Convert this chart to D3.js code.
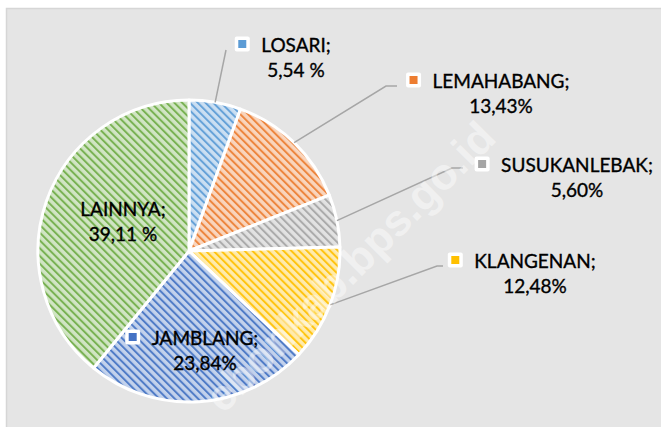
<!DOCTYPE html>
<html><head><meta charset="utf-8">
<script src="https://cdn.jsdelivr.net/npm/d3@7/dist/d3.min.js"></script>
<style>html,body{margin:0;padding:0;background:#fff;}svg{display:block;}</style>
</head><body>
<svg id="chart" width="661" height="427"></svg>
<script>
// ---- data ----
const categories = ["LOSARI", "LEMAHABANG", "SUSUKANLEBAK", "KLANGENAN", "JAMBLANG", "LAINNYA"];
const values = [5.54, 13.43, 5.60, 12.48, 23.84, 39.11];
const valueLabels = ["5,54 %", "13,43%", "5,60%", "12,48%", "23,84%", "39,11 %"];
const colors = ["#5B9BD5", "#ED7D31", "#A5A5A5", "#FFC000", "#4472C4", "#70AD47"];

// ---- layout ----
const W = 661, H = 427;
const cx = 189, cy = 251, R = 151;
const labelPos = [[296, 52], [501, 88], [577, 172], [535, 268], [205, 345], [123, 216]];
const showMarker = [true, true, true, true, true, false];
const leader = [
  [[226, 50]],
  [[386, 86], [397, 86]],
  [[452, 168], [463, 168]],
  [[437, 266], [443, 266]],
  null, null
];

const svg = d3.select("#chart");
svg.append("rect").attr("width", W).attr("height", H).attr("fill", "#fff");
svg.append("rect").attr("x", 6.5).attr("y", 8.5).attr("width", W).attr("height", H)
  .attr("fill", "#e5e5e5").attr("stroke", "#d6d6d6").attr("stroke-width", 1.5);

const defs = svg.append("defs");
colors.forEach((c, i) => {
  const p = defs.append("pattern").attr("id", "pat" + i)
    .attr("patternUnits", "userSpaceOnUse").attr("width", 5.5).attr("height", 5.5)
    .attr("patternTransform", "rotate(-45)");
  p.append("rect").attr("width", 5.5).attr("height", 5.5).attr("fill", d3.interpolateRgb(c, "#fff")(0.68));
  p.append("rect").attr("width", 2).attr("height", 5.5).attr("fill", c).attr("opacity", 0.9);
});

const pie = d3.pie().sort(null).value(d => d)(values);
const arc = d3.arc().innerRadius(0).outerRadius(R);
const g = svg.append("g").attr("transform", `translate(${cx},${cy})`);
g.selectAll("path").data(pie).join("path")
  .attr("d", arc).attr("fill", (d, i) => `url(#pat${i})`)
  .attr("stroke", "#fff").attr("stroke-width", 3).attr("stroke-linejoin", "round");

// leader lines
pie.forEach((d, i) => {
  if (!leader[i]) return;
  const a = (d.startAngle + d.endAngle) / 2;
  const pts = [[cx + R * Math.sin(a), cy - R * Math.cos(a)], ...leader[i]];
  svg.append("path").attr("d", d3.line()(pts)).attr("fill", "none")
    .attr("stroke", "#a6a6a6").attr("stroke-width", 1.5);
});

// watermark
svg.append("text").attr("transform", "translate(498,140) rotate(-45)")
  .attr("text-anchor", "end").attr("font-family", "Liberation Sans, Arial, sans-serif")
  .attr("font-weight", "bold").attr("font-size", 44).attr("fill", "#fff").attr("opacity", 0.45)
  .text("ebonkab.bps.go.id");

// labels
const font = "Lato, 'Noto Sans', sans-serif";
categories.forEach((name, i) => {
  const [x, y] = labelPos[i];
  const t1 = svg.append("text").attr("x", x).attr("y", y).attr("text-anchor", "middle")
    .attr("font-family", font).attr("font-size", 19).attr("fill", "#000")
    .attr("stroke", "#000").attr("stroke-width", 0.35).text(name + ";");
  svg.append("text").attr("x", x).attr("y", y + 25).attr("text-anchor", "middle")
    .attr("font-family", font).attr("font-size", 19).attr("fill", "#000")
    .attr("stroke", "#000").attr("stroke-width", 0.35).text(valueLabels[i]);
  if (showMarker[i]) {
    const w = t1.node().getComputedTextLength();
    const mx = x - w / 2 - 19, my = y - 8;
    svg.append("rect").attr("x", mx - 7.5).attr("y", my - 7.5).attr("width", 15).attr("height", 15)
      .attr("rx", 2).attr("fill", "#fff");
    svg.append("rect").attr("x", mx - 4).attr("y", my - 4).attr("width", 8).attr("height", 8)
      .attr("fill", colors[i]);
  }
});
</script>
</body></html>
